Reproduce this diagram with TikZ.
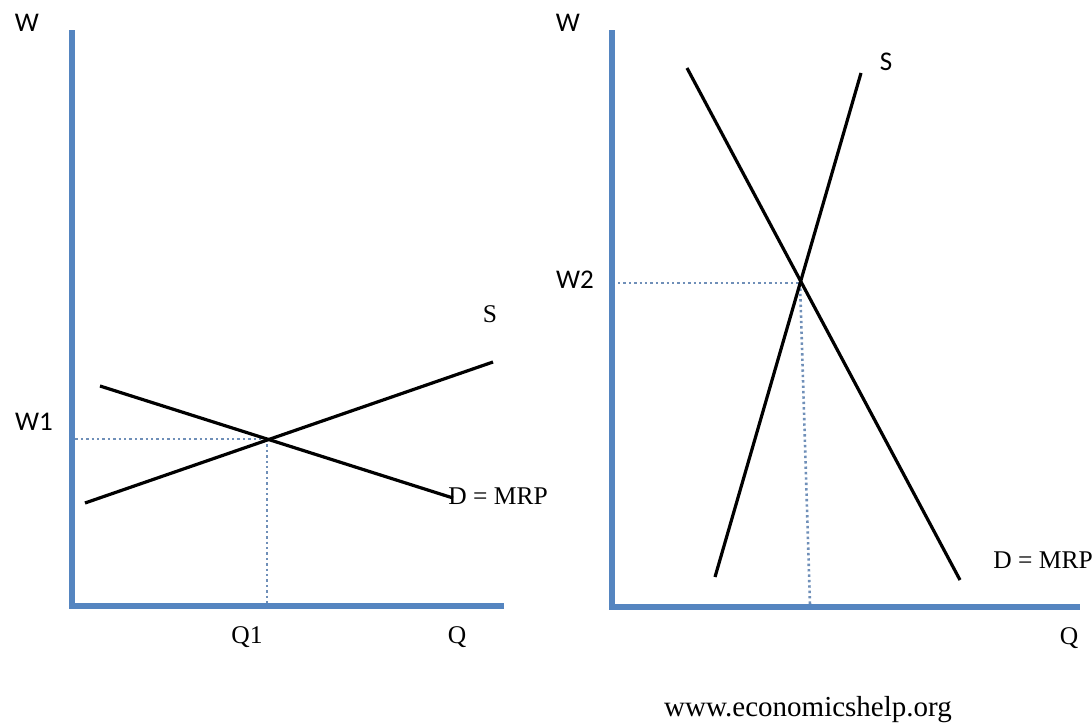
\documentclass[tikz,border=0pt]{standalone}
\usepackage{fontspec}
\setmainfont{Liberation Serif}
\newfontfamily\axisfont{Carlito}
\usepackage{tikz}
\usetikzlibrary{positioning}
\definecolor{AxisBlue}{HTML}{5585C0}
\definecolor{GuideBlue}{HTML}{6F8FB8}
\begin{document}
\begin{tikzpicture}[x=1pt,y=-1pt,
  axisline/.style={AxisBlue,line width=6pt},
  curve/.style={black,line width=3.2pt},
  guide/.style={GuideBlue,line width=2.6pt,dash pattern=on 2.4pt off 3pt},
  wlabel/.style={font=\axisfont\fontsize{27}{29}\selectfont},
  qlabel/.style={font=\fontsize{25.5}{27}\selectfont}]
\useasboundingbox (0,0) rectangle (1092,726);
% left panel
\coordinate (lorig) at (72,606);
\coordinate (ltop) at (72,30);
\coordinate (lend) at (504,606);
\coordinate (lsA) at (85,503);
\coordinate (lsB) at (493,362);
\coordinate (ldA) at (100,386);
\coordinate (ldB) at (453,498);
\coordinate (leq) at (267,439);
\coordinate (lw) at (70,439);
\coordinate (lq) at (267,604);
\draw[guide] (lw)--(leq);
\draw[guide] (leq)--(lq);
\draw[axisline] (ltop)--(lorig)--(lend);
\draw[curve] (lsA)--(lsB);
\draw[curve] (ldA)--(ldB);
\node[wlabel] (lW) at (27,23) {W};
\node[wlabel] (lW1) at (34,422) {W1};
\node[qlabel] (lS) at (490,314) {S};
\node[qlabel] (lD) at (498,496) {D = MRP};
\node[qlabel] (lQ1) at (247,637) {Q1};
\node[qlabel] (lQ) at (457,637) {Q};
% right panel
\coordinate (rorig) at (612,607);
\coordinate (rtop) at (612,30);
\coordinate (rend) at (1080,607);
\coordinate (rdA) at (687,68);
\coordinate (rdB) at (960,580);
\coordinate (rsA) at (715,577);
\coordinate (rsB) at (861,73);
\coordinate (req) at (800,283);
\coordinate (rw) at (618,283);
\coordinate (rq) at (810,605);
\draw[guide] (rw)--(req);
\draw[guide] (req)--(rq);
\draw[axisline] (rtop)--(rorig)--(rend);
\draw[curve] (rdA)--(rdB);
\draw[curve] (rsA)--(rsB);
\node[wlabel] (rW) at (568,23) {W};
\node[wlabel] (rS) at (886,62) {S};
\node[wlabel] (rW2) at (575,280) {W2};
\node[qlabel] (rD) at (1043,560) {D = MRP};
\node[qlabel] (rQ) at (1069,638) {Q};
\node[font=\fontsize{29}{31}\selectfont] (site) at (808,710) {www.economicshelp.org};
\end{tikzpicture}
\end{document}
